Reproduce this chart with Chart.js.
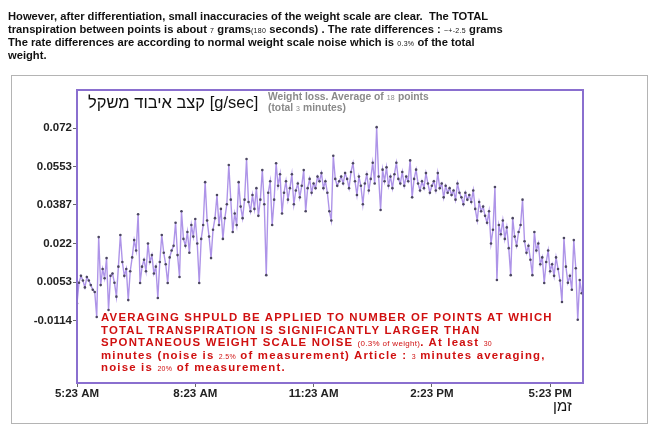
<!DOCTYPE html>
<html>
<head>
<meta charset="utf-8">
<script src="https://cdn.jsdelivr.net/npm/chart.js@4.4.1/dist/chart.umd.min.js"></script>
<style>
  html, body { margin: 0; padding: 0; background: #fff; }
  #wrap { position: relative; width: 670px; height: 433px; overflow: hidden; font-family: "Liberation Sans", Arial, sans-serif; }
  #c { position: absolute; left: 0; top: 0; }
  .note { position: absolute; left: 8px; top: 10px; font-weight: bold; font-size: 11.2px; line-height: 12.9px; color: #111; white-space: nowrap; }
  .sm { font-size: 7px; font-weight: normal; line-height: 0; letter-spacing: 0.3px; }
  .frame { position: absolute; left: 11px; top: 75px; width: 637px; height: 349px; border: 1px solid #b4b4b4; box-sizing: border-box; }
  .ttl { position: absolute; left: 88px; top: 93px; font-size: 16.5px; color: #111; font-family: Arial, "Liberation Sans", sans-serif; white-space: nowrap; }
  .sub { position: absolute; left: 268px; top: 92px; font-size: 10.3px; line-height: 10.5px; font-weight: bold; color: #8a8a8a; white-space: nowrap; }
  .red { position: absolute; left: 101px; top: 311px; font-size: 11.4px; line-height: 12.5px; letter-spacing: 1.2px; font-weight: bold; color: #d01010; white-space: nowrap; }
  .xt { position: absolute; left: 553px; top: 398px; font-size: 15px; line-height: 15px; color: #111; font-family: Arial, sans-serif; }
</style>
</head>
<body>
<div id="wrap">
  <div class="frame"></div>
  <canvas id="c" width="670" height="433"></canvas>
  <div class="note">However, after differentiation, small inaccuracies of the weight scale are clear.&nbsp; The TOTAL<br>transpiration between points is about <span class="sm">7</span> grams<span class="sm">(180</span> seconds) . The rate differences : <span class="sm">~+-2.5</span> grams<br>The rate differences are according to normal weight scale noise which is <span class="sm">0.3%</span> of the total<br>weight.</div>
  <div class="ttl">קצב איבוד משקל [g/sec]</div>
  <div class="sub">Weight loss. Average of <span class="sm">18</span> points<br>(total <span class="sm">3</span> minutes)</div>
  <div class="red">AVERAGING SHPULD BE APPLIED TO NUMBER OF POINTS AT WHICH<br>TOTAL TRANSPIRATION IS SIGNIFICANTLY LARGER THAN<br>SPONTANEOUS WEIGHT SCALE NOISE <span class="sm" style="font-size:8px">(0.3% of weight)</span>. At least <span class="sm">30</span><br>minutes (noise is <span class="sm">2.5%</span> of measurement) Article : <span class="sm">3</span> minutes averaging,<br>noise is <span class="sm">20%</span> of measurement.</div>
  <div class="xt">זמן</div>
</div>
<script>
// minutes after 5:23 AM, one reading every 3 minutes
const stepMinutes = 3;
const timeTicks = [0, 180, 360, 540, 720];
const timeLabels = ['5:23 AM', '8:23 AM', '11:23 AM', '2:23 PM', '5:23 PM'];
const rateTicks = [-0.0114, 0.0053, 0.022, 0.0387, 0.0553, 0.072];
const rateLabels = ['-0.0114', '0.0053', '0.022', '0.0387', '0.0553', '0.072'];

// weight loss rate [g/sec]
const rate = [
  -0.004, 0.005, 0.008, 0.006, 0.003, 0.0075, 0.006, 0.004, 0.002, 0.001,
  -0.0098, 0.0248, 0.004, 0.011, 0.007, 0.0157, -0.0068, 0.008, 0.009, 0.005,
  -0.001, 0.012, 0.0257, 0.014, 0.008, 0.011, -0.0025, 0.010, 0.016, 0.0235,
  0.019, 0.0347, 0.0049, 0.012, 0.015, 0.010, 0.022, 0.014, 0.017, 0.009,
  0.012, -0.0016, 0.014, 0.0257, 0.018, 0.013, 0.0049, 0.016, 0.019, 0.021,
  0.031, 0.017, 0.0075, 0.036, 0.024, 0.021, 0.027, 0.018, 0.030, 0.025,
  0.0326, 0.022, 0.0049, 0.024, 0.030, 0.0486, 0.032, 0.025, 0.0157, 0.028,
  0.033, 0.043, 0.030, 0.037, 0.024, 0.033, 0.039, 0.056, 0.041, 0.027,
  0.035, 0.030, 0.0486, 0.038, 0.033, 0.041, 0.0586, 0.040, 0.036, 0.043,
  0.037, 0.046, 0.034, 0.041, 0.0538, 0.039, 0.0083, 0.044, 0.049, 0.030,
  0.041, 0.0568, 0.047, 0.052, 0.035, 0.044, 0.049, 0.041, 0.046, 0.052,
  0.039, 0.045, 0.048, 0.042, 0.047, 0.0538, 0.036, 0.046, 0.050, 0.044,
  0.048, 0.046, 0.051, 0.049, 0.0525, 0.046, 0.049, 0.044, 0.036, 0.032,
  0.060, 0.050, 0.047, 0.049, 0.051, 0.048, 0.0525, 0.050, 0.046, 0.053,
  0.0568, 0.049, 0.043, 0.051, 0.047, 0.039, 0.048, 0.052, 0.045, 0.050,
  0.057, 0.048, 0.0724, 0.051, 0.0365, 0.054, 0.049, 0.055, 0.047, 0.051,
  0.046, 0.052, 0.057, 0.050, 0.048, 0.053, 0.047, 0.051, 0.049, 0.058,
  0.042, 0.050, 0.054, 0.048, 0.045, 0.049, 0.046, 0.0525, 0.048, 0.044,
  0.047, 0.049, 0.045, 0.0525, 0.046, 0.048, 0.042, 0.047, 0.044, 0.046,
  0.043, 0.045, 0.041, 0.048, 0.044, 0.042, 0.039, 0.044, 0.041, 0.043,
  0.040, 0.045, 0.037, 0.032, 0.040, 0.036, 0.038, 0.034, 0.031, 0.036,
  0.022, 0.028, 0.0465, 0.0062, 0.030, 0.026, 0.032, 0.024, 0.029, 0.020,
  0.0083, 0.033, 0.025, 0.021, 0.027, 0.030, 0.041, 0.023, 0.018, 0.021,
  0.015, 0.0083, 0.027, 0.019, 0.022, 0.013, 0.016, 0.0049, 0.014, 0.019,
  0.010, 0.013, 0.008, 0.016, 0.011, 0.006, -0.0033, 0.0244, 0.012, 0.005,
  0.008, 0.002, 0.0235, 0.0113, -0.011, 0.0062, 0.0005
];

const points = rate.map((v, i) => ({ x: i * stepMinutes, y: v }));

// purple box round the plot area
const plotFrame = {
  id: 'plotFrame',
  afterDraw(chart) {
    const a = chart.chartArea, ctx = chart.ctx;
    ctx.save();
    ctx.strokeStyle = '#8a6fcf';
    ctx.lineWidth = 2;
    ctx.strokeRect(a.left, a.top, a.right - a.left, a.bottom - a.top);
    ctx.restore();
  }
};

new Chart(document.getElementById('c'), {
  type: 'line',
  data: {
    datasets: [{
      data: points,
      borderColor: '#ae94e8',
      borderWidth: 1.4,
      pointRadius: 1.3,
      pointBackgroundColor: '#4b4660',
      pointBorderWidth: 0,
      tension: 0
    }]
  },
  options: {
    responsive: false,
    animation: false,
    events: [],
    layout: { padding: { top: 90, right: 87, left: 0, bottom: 0 } },
    plugins: { legend: { display: false }, tooltip: { enabled: false } },
    scales: {
      x: {
        type: 'linear',
        min: 0,
        max: 770,
        afterBuildTicks: s => { s.ticks = timeTicks.map(v => ({ value: v })); },
        afterFit: s => { s.height = 50; },
        ticks: {
          callback: (v) => timeLabels[timeTicks.indexOf(v)],
          color: '#222',
          font: { family: 'Arial', size: 11.5, weight: 'bold' },
          padding: 0,
          maxRotation: 0,
          autoSkip: false
        },
        grid: { drawOnChartArea: false, tickLength: 4, color: '#666' },
        border: { display: false }
      },
      y: {
        min: -0.0384,
        max: 0.0885,
        afterBuildTicks: s => { s.ticks = rateTicks.map(v => ({ value: v })); },
        afterFit: s => { s.width = 77; },
        ticks: {
          callback: (v) => rateLabels[rateTicks.indexOf(v)],
          color: '#222',
          font: { family: 'Arial', size: 11.5, weight: 'bold' },
          padding: 1,
          autoSkip: false
        },
        grid: { drawOnChartArea: false, tickLength: 4, color: '#666' },
        border: { display: false }
      }
    }
  },
  plugins: [plotFrame]
});
</script>
</body>
</html>
